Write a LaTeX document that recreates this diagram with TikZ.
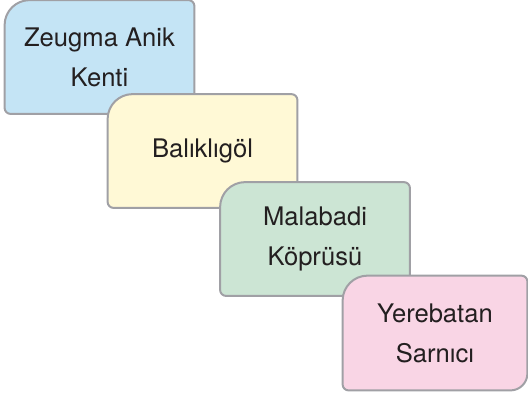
\documentclass[tikz,border=0pt]{standalone}
\usepackage{fontspec}
\setmainfont{TeX Gyre Heros}
\usepackage{tikz}
\usetikzlibrary{positioning, backgrounds}
\definecolor{tileblue}{RGB}{196,228,245}
\definecolor{tileyellow}{RGB}{255,249,214}
\definecolor{tilegreen}{RGB}{204,229,212}
\definecolor{tilepink}{RGB}{249,213,229}
\definecolor{rimgray}{RGB}{160,160,165}
\definecolor{inkdark}{RGB}{35,31,32}
\tikzstyle{tile} = [font=\fontsize{12.8}{20}\selectfont, text=inkdark, align=center, minimum width=94.5pt, minimum height=56.5pt, inner sep=0pt]
\tikzstyle{rim} = [draw=rimgray, line width=1pt]
% box with big top-left and bottom-right corners
\newcommand{\tileshape}[2]{%
  \begin{scope}[on background layer]
  \path[rim, fill=#2] (#1.west) [rounded corners=12.5pt] -- (#1.north west) -- (#1.north)
    [rounded corners=3pt] -- (#1.north east) -- (#1.east)
    [rounded corners=8.5pt] -- (#1.south east) -- (#1.south)
    [rounded corners=3pt] -- (#1.south west) -- cycle;
  \end{scope}}

\begin{document}
\begin{tikzpicture}[node distance=51.5pt]
\useasboundingbox (0,0) rectangle (264pt,-196.5pt);
  \node (zeugma) [tile] at (49.75pt,-28.5pt) {Zeugma Anik\\Kenti};
  \node (balikligol) [tile, right of=zeugma, yshift=-47pt] {Balıklıgöl};
  \node (malabadi) [tile, right of=balikligol, xshift=4.75pt, yshift=-44pt] {Malabadi\\Köprüsü};
  \node (yerebatan) [tile, right of=malabadi, xshift=8.5pt, yshift=-47pt, minimum width=92pt, minimum height=57pt] {Yerebatan\\Sarnıcı};
\tileshape{zeugma}{tileblue}
\tileshape{balikligol}{tileyellow}
\tileshape{malabadi}{tilegreen}
\tileshape{yerebatan}{tilepink}
\end{tikzpicture}
\end{document}
